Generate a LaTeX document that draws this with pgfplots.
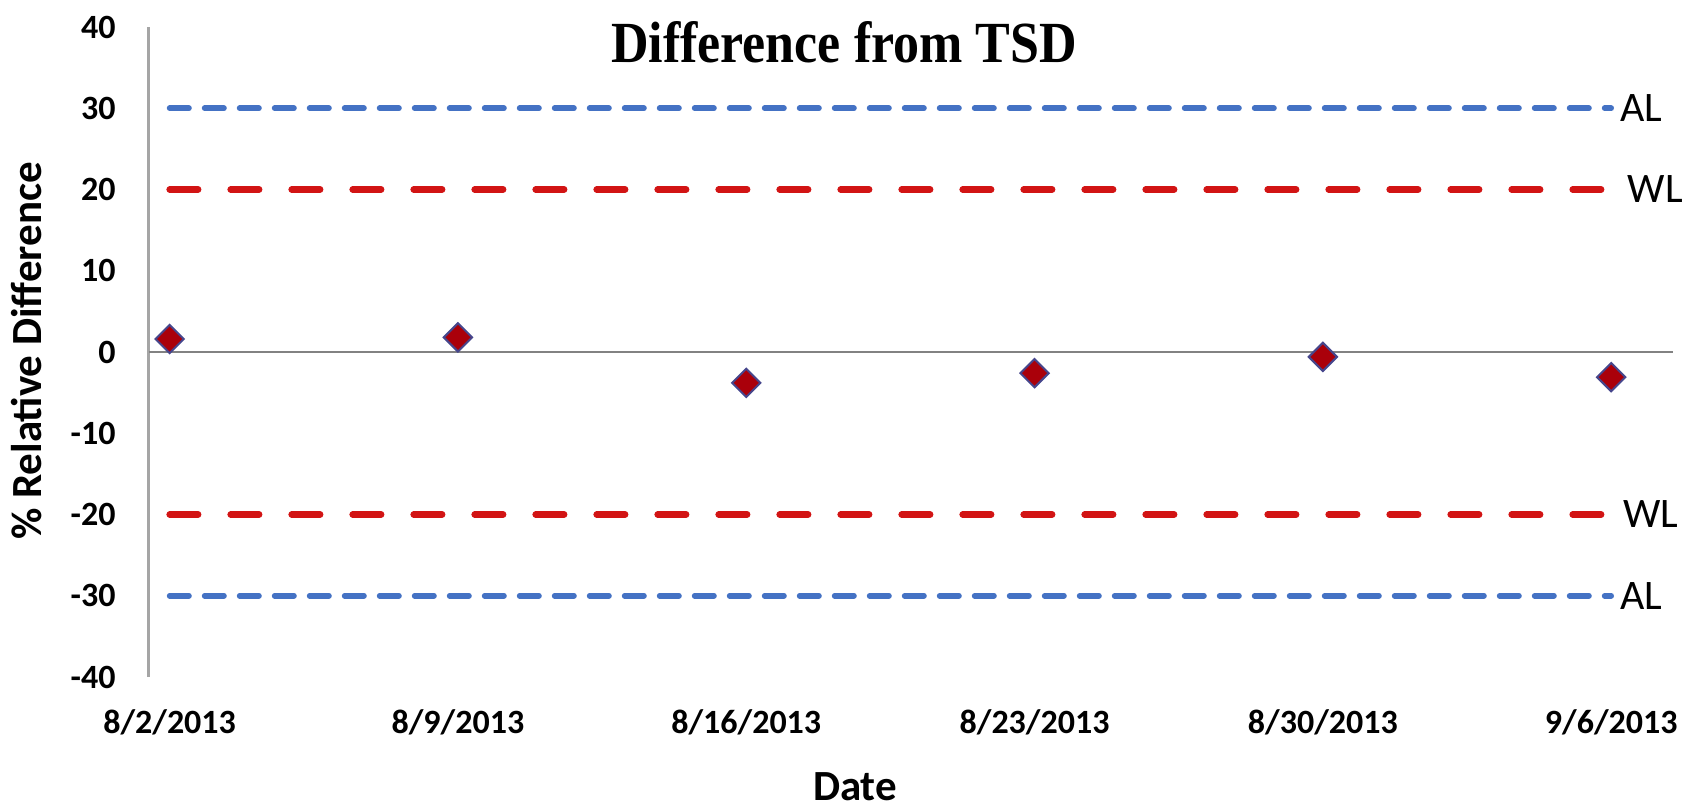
\documentclass[border=0pt]{standalone}
\usepackage{fontspec}
\setmainfont{Carlito}
\newfontfamily\titlefont{Liberation Serif}
\usepackage{pgfplots}
\pgfplotsset{compat=1.18}
\definecolor{alblue}{RGB}{68,114,196}
\definecolor{wlred}{RGB}{210,20,20}
\definecolor{mkfill}{RGB}{170,0,10}
\definecolor{mkedge}{RGB}{70,70,140}
\definecolor{axgray}{RGB}{165,165,165}
\definecolor{zgray}{RGB}{130,130,130}
\begin{document}
\begin{tikzpicture}
\begin{axis}[
  at={(0,0)}, anchor=south west,
  scale only axis, width=762pt, height=325pt,
  xmin=-0.5, xmax=36.5, ymin=-40, ymax=40,
  axis y line*=left, axis x line*=bottom,
  x axis line style={draw=none},
  y axis line style={axgray, line width=1.5pt},
  major tick length=0pt,
  xtick={0,7,14,21,28,35},
  xticklabels={8/2/2013,8/9/2013,8/16/2013,8/23/2013,8/30/2013,9/6/2013},
  ytick={-40,-30,-20,-10,0,10,20,30,40},
  yticklabels={-40,-30,-20,-10,0,10,20,30,40},
  tick label style={font=\fontsize{17}{20}\selectfont\bfseries},
  xticklabel style={anchor=center, yshift=-22.5pt},
  yticklabel style={anchor=east, inner sep=0pt, xshift=-16.5pt},
  clip=false,
]
\draw[zgray, line width=1.2pt] (axis cs:-0.5,0) -- (axis cs:36.5,0);
\addplot[alblue, line width=2.8pt, line cap=round, dash pattern=on 9.7pt off 7.8pt] coordinates {(0,30) (7,30) (14,30) (21,30) (28,30) (35,30)};
\addplot[alblue, line width=2.8pt, line cap=round, dash pattern=on 9.7pt off 7.8pt] coordinates {(0,-30) (7,-30) (14,-30) (21,-30) (28,-30) (35,-30)};
\addplot[wlred, line width=3.2pt, line cap=round, dash pattern=on 14.3pt off 16.2pt] coordinates {(0,20) (7,20) (14,20) (21,20) (28,20) (35,20)};
\addplot[wlred, line width=3.2pt, line cap=round, dash pattern=on 14.3pt off 16.2pt] coordinates {(0,-20) (7,-20) (14,-20) (21,-20) (28,-20) (35,-20)};
\addplot[only marks, mark=square*, mark size=5pt, mark options={rotate=45, fill=mkfill, draw=mkedge, line width=1pt}] coordinates {(0,1.6) (7,1.8) (14,-3.8) (21,-2.6) (28,-0.6) (35,-3.1)};
\node[anchor=west, inner sep=0pt, xshift=4.5pt, font=\fontsize{21}{25}\selectfont] at (axis cs:35,30) {AL};
\node[anchor=west, inner sep=0pt, xshift=8pt, font=\fontsize{21}{25}\selectfont] at (axis cs:35,20) {WL};
\node[anchor=west, inner sep=0pt, xshift=6pt, font=\fontsize{21}{25}\selectfont] at (axis cs:35,-20) {WL};
\node[anchor=west, inner sep=0pt, xshift=4.5pt, font=\fontsize{21}{25}\selectfont] at (axis cs:35,-30) {AL};
\end{axis}
\node[inner sep=0pt, font=\titlefont\bfseries\fontsize{26}{30}\selectfont] at (347.5pt,317.5pt) {\scalebox{1}[1.12]{Difference from TSD}};
\node[rotate=90, inner sep=0pt, font=\fontsize{21.5}{25}\selectfont\bfseries] at (-61pt,163pt) {\% Relative Difference};
\node[inner sep=0pt, font=\fontsize{21.5}{25}\selectfont\bfseries] at (353pt,-55pt) {Date};
\pgfresetboundingbox
\path[use as bounding box] (-74.5pt,-66.5pt) rectangle (769.5pt,338.5pt);
\end{tikzpicture}
\end{document}
